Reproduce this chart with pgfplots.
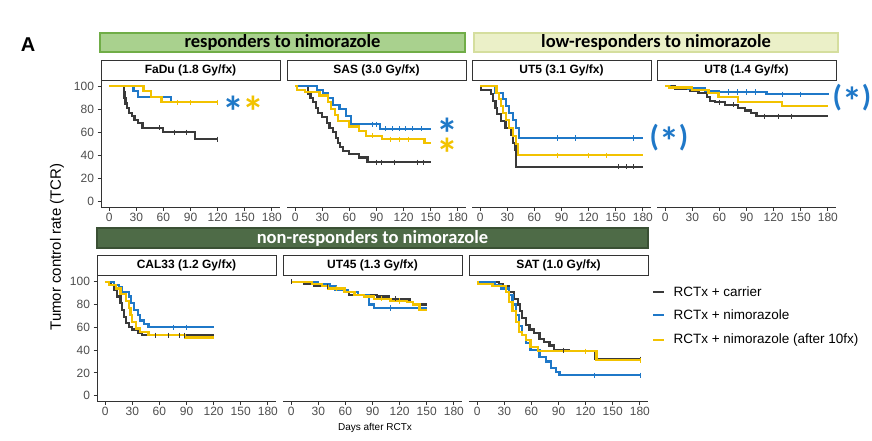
\documentclass[border=0pt]{standalone}
\usepackage{fontspec}
\setmainfont{Liberation Sans}
\newfontfamily\calib{Carlito}
\usepackage{pgfplots}
\pgfplotsset{compat=1.18}

\definecolor{kmblack}{HTML}{3A3A3A}
\definecolor{kmblue}{HTML}{1F78C8}
\definecolor{kmyellow}{HTML}{F2C200}
\definecolor{axgray}{HTML}{333333}
\definecolor{labgray}{HTML}{4D4D4D}
\definecolor{hgreen}{HTML}{A9D18E}
\definecolor{hgreenb}{HTML}{70AD47}
\definecolor{hlight}{HTML}{EBF0C8}
\definecolor{hlightb}{HTML}{D5DE9E}
\definecolor{hdark}{HTML}{4E6B47}
\definecolor{hdarkb}{HTML}{3A5034}

\pgfplotsset{
  km/.style={
    scale only axis, width=179pt, xmin=-9, xmax=189, ymin=-5, ymax=105,
    xtick={0,30,...,180}, ytick={0,20,...,100},
    axis x line=bottom, axis y line=left,
    axis line style={-, draw=axgray, line width=1pt},
    tick align=outside, major tick length=3.5pt,
    tick style={axgray, line width=1pt},
    ticklabel style={font=\fontsize{12}{12}\selectfont, text=labgray},
    xticklabel style={yshift=1pt},
    /pgf/number format/assume math mode=true,
    anchor=north west},
  top/.style={km, height=126.5pt},
  bot/.style={km, height=125.4pt},
  noy/.style={axis y line=none},
  cblack/.style={const plot, no marks, draw=kmblack, line width=2.2pt},
  cblue/.style={const plot, no marks, draw=kmblue, line width=2.2pt},
  cyellow/.style={const plot, no marks, draw=kmyellow, line width=2.2pt},
  cens/.style={only marks, mark=|, mark size=2.6pt, mark options={line width=0.7pt}},
}
\tikzset{
  strip/.style={draw=axgray, line width=1pt, fill=white},
  striptext/.style={font=\fontsize{12}{12}\selectfont\bfseries, text=black},
  star/.style={font=\calib\bfseries\fontsize{44}{44}\selectfont, inner sep=0pt},
  pstar/.style={font=\calib\bfseries\fontsize{30}{30}\selectfont, text=kmblue, inner sep=0pt},
}
\newcommand{\cstar}{\raisebox{-0.545em}[0.2em][0.2em]{*}}

\begin{document}
\begin{tikzpicture}
\useasboundingbox (0,0) rectangle (872pt,-440pt);

% group headers
\draw[draw=hgreenb, line width=1.2pt, fill=hgreen] (100pt,-33pt) rectangle (465pt,-52pt);
\node[font=\calib\bfseries\fontsize{18.5}{18.5}\selectfont, text=black] at (282.5pt,-42.5pt) {responders to nimorazole};
\draw[draw=hlightb, line width=1.2pt, fill=hlight] (474pt,-33pt) rectangle (838pt,-52pt);
\node[font=\calib\bfseries\fontsize{18.5}{18.5}\selectfont, text=black] at (656pt,-42.5pt) {low-responders to nimorazole};
\draw[draw=hdarkb, line width=1.2pt, fill=hdark] (97pt,-228pt) rectangle (648pt,-248pt);
\node[font=\calib\bfseries\fontsize{18.5}{18.5}\selectfont, text=white] at (372.5pt,-238pt) {non-responders to nimorazole};

\node[font=\bfseries\fontsize{20}{20}\selectfont] at (28pt,-45pt) {A};

% strips
\foreach \x/\t in {101/{FaDu (1.8 Gy/fx)},287/{SAS (3.0 Gy/fx)},472/{UT5 (3.1 Gy/fx)},657/{UT8 (1.4 Gy/fx)}}{
  \draw[strip] (\x pt,-60pt) rectangle ({\x pt+179pt},-80pt);
  \node[striptext] at ({\x pt+89.5pt},-70pt) {\t};
}
\foreach \x/\t in {97/{CAL33 (1.2 Gy/fx)},283/{UT45 (1.3 Gy/fx)},469/{SAT (1.0 Gy/fx)}}{
  \draw[strip] (\x pt,-255pt) rectangle ({\x pt+179pt},-275pt);
  \node[striptext] at ({\x pt+89.5pt},-265pt) {\t};
}

% FaDu
\begin{axis}[top, at={(101pt,-80.5pt)}]
\addplot[cblack] coordinates {(0,100)(16,95)(17,90)(18,85)(20,81)(22,77)(25,74)(28,71)(32,68)(37,64)(60,60)(95,54)(120,54)};
\addplot[cblue] coordinates {(0,100)(27,96)(32,91)(68,86)(120,86)};
\addplot[cyellow] coordinates {(0,100)(38,96)(46,91)(58,86)(120,86)};
\addplot[cens, kmblack] coordinates {(55,64)(72,60)(85,60)(120,54)};
\addplot[cens, kmyellow] coordinates {(75,86)(90,86)(120,86)};
\end{axis}

% SAS
\begin{axis}[top, noy, at={(287pt,-80.5pt)}]
\addplot[cblack] coordinates {(0,100)(14,93)(17,90)(20,86)(23,81)(25,77)(30,73)(35,68)(38,64)(42,60)(45,55)(47,51)(50,47)(53,44)(60,41)(71,38)(80,34)(150,34)};
\addplot[cblue] coordinates {(0,100)(24,97)(31,94)(36,90)(42,84)(49,80)(56,74)(62,67)(94,63)(150,63)};
\addplot[cyellow] coordinates {(0,100)(2,97)(11,95)(27,92)(36,86)(40,80)(44,75)(47,70)(60,65)(71,61)(78,57)(96,54)(143,51)(150,51)};
\addplot[cens, kmblack] coordinates {(90,34)(95,34)(110,34)(135,34)(142,34)};
\addplot[cens, kmblue] coordinates {(85,67)(90,67)(100,63)(108,63)(115,63)(122,63)(130,63)(140,63)};
\addplot[cens, kmyellow] coordinates {(85,57)(105,54)(115,54)(125,54)};
\end{axis}

% UT5
\begin{axis}[top, noy, at={(472pt,-80.5pt)}]
\addplot[cblack] coordinates {(0,100)(1,97)(12,93)(14,87)(17,81)(19,76)(23,70)(28,64)(34,58)(36,51)(39,45)(40,30)(180,30)};
\addplot[cblue] coordinates {(0,100)(17,94)(25,89)(29,83)(32,77)(36,71)(40,64)(43,55)(180,55)};
\addplot[cyellow] coordinates {(0,100)(18,94)(21,89)(23,83)(25,77)(29,71)(32,64)(36,57)(40,50)(42,40)(180,40)};
\addplot[cens, kmblack] coordinates {(153,30)(162,30)(170,30)};
\addplot[cens, kmblue] coordinates {(85,55)(105,55)(170,55)};
\addplot[cens, kmyellow] coordinates {(85,40)(120,40)(140,40)};
\end{axis}

% UT8
\begin{axis}[top, noy, at={(657pt,-80.5pt)}]
\addplot[cblack] coordinates {(0,100)(11,98)(28,96)(37,94)(46,91)(50,87)(55,86)(66,84)(81,81)(88,79)(95,77)(101,74)(180,74)};
\addplot[cblue] coordinates {(0,100)(5,99)(25,98)(44,96)(60,95)(112,93)(180,92)};
\addplot[cyellow] coordinates {(0,100)(4,99)(30,97)(48,94)(59,91)(81,86)(129,83)(180,83)};
\addplot[cens, kmblack] coordinates {(60,86)(75,84)(110,74)(125,74)(140,74)};
\addplot[cens, kmblue] coordinates {(70,95)(80,95)(90,95)(100,95)(130,93)(150,93)};
\end{axis}

% CAL33
\begin{axis}[bot, at={(97pt,-276pt)}]
\addplot[cblack] coordinates {(0,100)(6,97)(10,93)(13,87)(17,81)(19,75)(21,69)(23,64)(26,60)(30,58)(36,55)(41,53)(120,53)};
\addplot[cblue] coordinates {(0,100)(10,97)(15,95)(19,91)(26,87)(29,81)(32,75)(36,71)(39,66)(43,63)(48,60)(120,60)};
\addplot[cyellow] coordinates {(0,100)(4,97)(12,94)(17,89)(23,83)(26,77)(28,71)(30,65)(34,59)(39,56)(48,53)(88,51)(120,51)};
\addplot[cens, kmblack] coordinates {(55,53)(70,53)(82,53)(88,53)};
\addplot[cens, kmblue] coordinates {(75,60)(90,60)};
\end{axis}

% UT45
\begin{axis}[bot, noy, at={(283pt,-276pt)}]
\addplot[cblack] coordinates {(0,100)(14,98)(25,96)(45,94)(59,91)(64,88)(95,87)(108,85)(131,82)(135,80)(150,80)};
\addplot[cblue] coordinates {(0,100)(30,98)(43,96)(49,93)(63,91)(74,88)(86,80)(92,77)(150,77)};
\addplot[cyellow] coordinates {(0,100)(23,98)(34,96)(41,94)(59,91)(70,88)(81,87)(92,85)(110,83)(128,82)(135,80)(142,75)(150,75)};
\addplot[cens, kmblack] coordinates {(0,100)(40,96)(115,85)};
\addplot[cens, kmblue] coordinates {(110,77)};
\addplot[cens, kmyellow] coordinates {(50,94)(100,85)(120,83)};
\end{axis}

% SAT
\begin{axis}[bot, noy, at={(469pt,-276pt)}]
\addplot[cblack] coordinates {(0,100)(24,98)(28,96)(35,91)(41,85)(45,80)(47,74)(50,68)(54,62)(58,58)(63,55)(69,50)(74,47)(80,44)(85,40)(102,39)(130,32)(180,32)};
\addplot[cblue] coordinates {(0,100)(20,97)(26,94)(35,88)(39,80)(43,71)(46,61)(50,53)(54,46)(59,40)(69,34)(76,30)(82,24)(87,21)(91,18)(180,18)};
\addplot[cyellow] coordinates {(0,100)(1,98)(17,96)(32,91)(35,82)(39,74)(43,65)(46,56)(50,53)(54,49)(59,43)(67,39)(132,31)(180,31)};
\addplot[cens, kmblack] coordinates {(95,40)(180,32)};
\addplot[cens, kmblue] coordinates {(130,18)(180,18)};
\addplot[cens, kmyellow] coordinates {(120,39)(180,31)};
\end{axis}

% significance marks
\node[star, text=kmblue] at (233pt,-104pt) {\cstar};
\node[star, text=kmyellow] at (253pt,-104pt) {\cstar};
\node[star, text=kmblue] at (447pt,-126pt) {\cstar};
\node[star, text=kmyellow] at (447pt,-146pt) {\cstar};
\node[pstar] at (669pt,-140pt) {(\raisebox{-0.3em}{\fontsize{40}{40}\selectfont *})};
\node[pstar] at (852pt,-100pt) {(\raisebox{-0.3em}{\fontsize{40}{40}\selectfont *})};

% axis titles
\node[rotate=90, font=\fontsize{15}{15}\selectfont] at (57pt,-247pt) {Tumor control rate (TCR)};
\node[font=\fontsize{10}{10}\selectfont] at (375pt,-428pt) {Days after RCTx};

% legend
\draw[kmblack, line width=2.4pt] (653pt,-292pt) -- (664pt,-292pt);
\draw[kmblue, line width=2.4pt] (653pt,-315pt) -- (664pt,-315pt);
\draw[kmyellow, line width=2.4pt] (653pt,-340pt) -- (664pt,-340pt);
\node[anchor=west, font=\fontsize{13.5}{13.5}\selectfont] at (670pt,-292pt) {RCTx + carrier};
\node[anchor=west, font=\fontsize{13.5}{13.5}\selectfont] at (670pt,-315pt) {RCTx + nimorazole};
\node[anchor=west, font=\fontsize{13.5}{13.5}\selectfont] at (670pt,-340pt) {RCTx + nimorazole (after 10fx)};
\end{tikzpicture}
\end{document}
